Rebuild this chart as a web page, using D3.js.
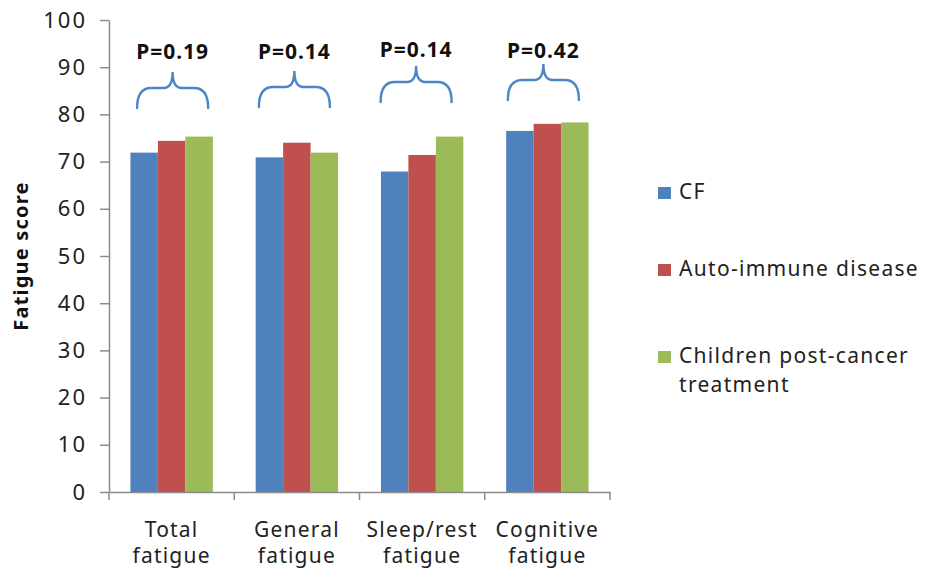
<!DOCTYPE html>
<html>
<head>
<meta charset="utf-8">
<script src="https://cdn.jsdelivr.net/npm/d3@7"></script>
<style>
  html, body { margin: 0; padding: 0; background: #fff; }
  svg { display: block; }
  text { font-family: "Noto Sans", "Open Sans", sans-serif; }
</style>
</head>
<body>
<svg id="chart" width="925" height="574"></svg>
<script>
// ---- data ----
const categories = [["Total", "fatigue"], ["General", "fatigue"], ["Sleep/rest", "fatigue"], ["Cognitive", "fatigue"]];
const seriesNames = ["CF", "Auto-immune disease", "Children post-cancer treatment"];
const cfValues = [71.9, 70.9, 67.9, 76.5];
const autoImmuneValues = [74.4, 74.0, 71.4, 78.0];
const childrenValues = [75.3, 71.9, 75.3, 78.3];
const pLabels = ["P=0.19", "P=0.14", "P=0.14", "P=0.42"];
const yTicks = [0, 10, 20, 30, 40, 50, 60, 70, 80, 90, 100];
const yTitle = "Fatigue score";

// ---- layout / style ----
const colors = ["#4f81bd", "#c0504d", "#9bbb59"];
const braceColor = "#4a86c8";
const axisColor = "#8c8c8c";
const plot = { left: 109, right: 610, top: 20, bottom: 492 };
// small hand-placed nudges of the annotation braces (px): [dx, dy]
const braceNudge = [[1, 0], [-2.5, -1], [-6, -6], [-4, -8]];
const pTextNudge = [0, 0, -2, -1];

const svg = d3.select("#chart");
const series = [cfValues, autoImmuneValues, childrenValues];

const x0 = d3.scaleBand()
  .domain(d3.range(categories.length))
  .range([plot.left, plot.right])
  .paddingInner(0).paddingOuter(0);
const x1 = d3.scaleBand()
  .domain(d3.range(series.length))
  .range([0, x0.bandwidth()])
  .paddingInner(0)
  .paddingOuter(0.78);
const y = d3.scaleLinear().domain([0, 100]).range([plot.bottom, plot.top]);

// bars
const groups = svg.append("g").selectAll("g")
  .data(categories.map((c, i) => i))
  .join("g")
  .attr("transform", i => `translate(${x0(i)},0)`);
groups.selectAll("rect")
  .data(i => series.map((s, k) => ({ k, v: s[i] })))
  .join("rect")
  .attr("x", d => x1(d.k))
  .attr("width", x1.bandwidth())
  .attr("y", d => y(d.v))
  .attr("height", d => y(0) - y(d.v))
  .attr("fill", d => colors[d.k]);

// y axis
const yAxis = d3.axisLeft(y).tickValues(yTicks).tickSize(9).tickPadding(13).tickSizeOuter(0);
const gy = svg.append("g").attr("transform", `translate(${plot.left},0)`).call(yAxis);
gy.attr("font-family", null).attr("font-size", null);
gy.select(".domain").attr("stroke", axisColor).attr("stroke-width", 1.5);
gy.selectAll(".tick line").attr("stroke", axisColor).attr("stroke-width", 1.5);
gy.selectAll(".tick text")
  .style("font-size", "22px")
  .style("letter-spacing", "2px")
  .attr("fill", "#222");

// x axis
const xAxis = d3.axisBottom(x0).tickSize(0).tickFormat("");
const gx = svg.append("g").attr("transform", `translate(0,${plot.bottom})`).call(xAxis);
gx.select(".domain").attr("stroke", axisColor).attr("stroke-width", 1.5);
// boundary ticks between categories
const boundaries = d3.range(categories.length + 1).map(i => i < categories.length ? x0(i) : x0(categories.length - 1) + x0.bandwidth());
gx.selectAll(".bnd").data(boundaries).join("line")
  .attr("class", "bnd")
  .attr("x1", d => d).attr("x2", d => d)
  .attr("y1", 0).attr("y2", 8)
  .attr("stroke", axisColor).attr("stroke-width", 1.5);

// category labels (two lines)
const catLabels = svg.append("g").selectAll("text")
  .data(categories.map((c, i) => ({ c, i })))
  .join("text")
  .attr("text-anchor", "middle")
  .attr("font-size", 21)
  .style("letter-spacing", "1.2px")
  .attr("fill", "#222");
catLabels.selectAll("tspan")
  .data(d => d.c.map((line, j) => ({ line, j, i: d.i })))
  .join("tspan")
  .attr("x", d => x0(d.i) + x0.bandwidth() / 2)
  .attr("y", d => plot.bottom + 45 + d.j * 26)
  .text(d => d.line);

// y title
svg.append("text")
  .attr("transform", `translate(28,${(plot.top + plot.bottom) / 2}) rotate(-90)`)
  .attr("text-anchor", "middle")
  .attr("font-size", 20)
  .attr("font-weight", "bold")
  .style("letter-spacing", "1.2px")
  .attr("fill", "#111")
  .text(yTitle);

// braces + p labels
function bracePath(cx, yb) {
  const w = 35.5, yS = yb - 20, yT = yb - 36;
  return `M${cx - w},${yb} Q${cx - w},${yS} ${cx - w + 14},${yS} L${cx - 9},${yS} Q${cx},${yS} ${cx},${yT}` +
         ` Q${cx},${yS} ${cx + 9},${yS} L${cx + w - 14},${yS} Q${cx + w},${yS} ${cx + w},${yb}`;
}
const ann = svg.append("g");
ann.selectAll("path")
  .data(pLabels.map((p, i) => i))
  .join("path")
  .attr("d", i => bracePath(x0(i) + x0.bandwidth() / 2 + braceNudge[i][0], 108 + braceNudge[i][1]))
  .attr("fill", "none")
  .attr("stroke", braceColor)
  .attr("stroke-width", 2.4)
  .attr("stroke-linecap", "round");
ann.selectAll("text")
  .data(pLabels.map((p, i) => ({ p, i })))
  .join("text")
  .attr("x", d => x0(d.i) + x0.bandwidth() / 2 + braceNudge[d.i][0])
  .attr("y", d => 59 + pTextNudge[d.i])
  .attr("text-anchor", "middle")
  .attr("font-size", 21)
  .attr("font-weight", "bold")
  .style("letter-spacing", "1px")
  .attr("fill", "#111")
  .text(d => d.p);

// legend
const legendRows = [
  { k: 0, lines: ["CF"], y: 199 },
  { k: 1, lines: ["Auto-immune disease"], y: 276 },
  { k: 2, lines: ["Children post-cancer", "treatment"], y: 363 }
];
const lg = svg.append("g").selectAll("g").data(legendRows).join("g");
lg.append("rect")
  .attr("x", 658).attr("y", d => d.y - 12)
  .attr("width", 13).attr("height", 12)
  .attr("fill", d => colors[d.k]);
lg.append("text")
  .attr("font-size", 21)
  .style("letter-spacing", "1.3px")
  .attr("fill", "#222")
  .selectAll("tspan")
  .data(d => d.lines.map((l, j) => ({ l, j, y: d.y })))
  .join("tspan")
  .attr("x", 679)
  .attr("y", d => d.y + d.j * 29)
  .text(d => d.l);
</script>
</body>
</html>
